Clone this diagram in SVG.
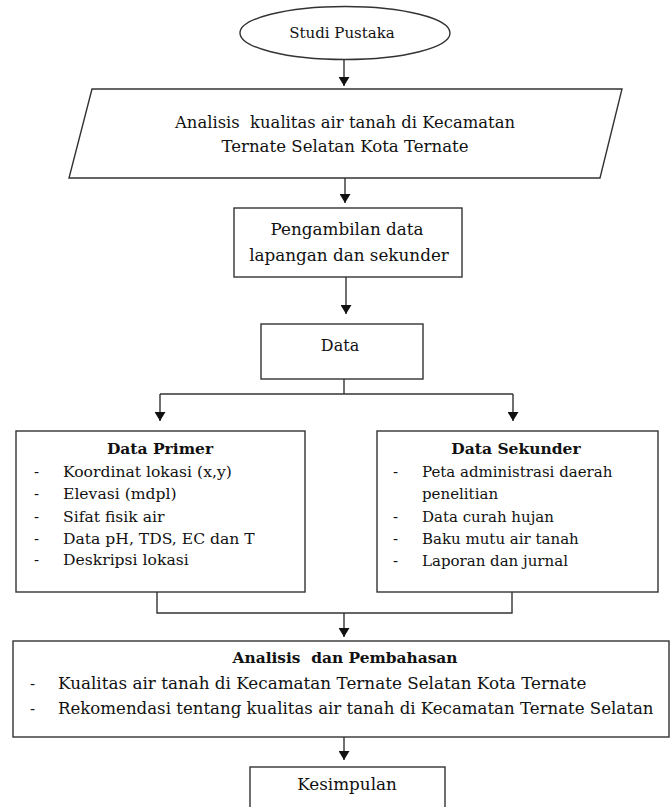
<svg xmlns="http://www.w3.org/2000/svg" width="670" height="807" viewBox="0 0 670 807">
<style>
.s{fill:#fff;stroke:#333;stroke-width:1.4}
.t{font-family:"DejaVu Serif","Liberation Serif",serif;font-size:15px;fill:#111}
.c{text-anchor:middle}
.b{font-weight:bold}
.p{white-space:pre}
.ln{fill:none;stroke:#333;stroke-width:1.4}
</style>
<defs>
<marker id="ah" viewBox="0 0 9 11" refX="9" refY="5.5" markerWidth="9" markerHeight="11" markerUnits="userSpaceOnUse" orient="auto">
<path d="M0,0 L9,5.5 L0,11 z" fill="#111"/>
</marker>
</defs>
<rect width="670" height="807" fill="#fff"/>
<g id="connectors">
<path class="ln" d="M344,60 V86" marker-end="url(#ah)"/>
<path class="ln" d="M345,178 V203" marker-end="url(#ah)"/>
<path class="ln" d="M346,277 V314" marker-end="url(#ah)"/>
<path class="ln" d="M344,379 V394"/>
<path class="ln" d="M160,394 H513"/>
<path class="ln" d="M160,394 V421" marker-end="url(#ah)"/>
<path class="ln" d="M513,394 V421" marker-end="url(#ah)"/>
<path class="ln" d="M157,592 V613 H512 V592"/>
<path class="ln" d="M344,613 V637" marker-end="url(#ah)"/>
<path class="ln" d="M344,737 V760" marker-end="url(#ah)"/>
</g>
<g id="studi">
<ellipse class="s" cx="345" cy="33" rx="105" ry="26.5"/>
<text class="t c" x="342" y="38" style="font-size:15px">Studi Pustaka</text>
</g>
<g id="analisis">
<polygon class="s" points="92,89 622,89 600,178 69,178"/>
<text class="t c p" x="345" y="128" style="font-size:16.4px">Analisis  kualitas air tanah di Kecamatan</text>
<text class="t c" x="345" y="152" style="font-size:16.6px">Ternate Selatan Kota Ternate</text>
</g>
<g id="pengambilan">
<rect class="s" x="234" y="208" width="228" height="69"/>
<text class="t c" x="347" y="235" style="font-size:16.8px">Pengambilan data</text>
<text class="t c" x="349" y="261" style="font-size:16.8px">lapangan dan sekunder</text>
</g>
<g id="data">
<rect class="s" x="261" y="324" width="162" height="55"/>
<text class="t c" x="340" y="351" style="font-size:16px">Data</text>
</g>
<g id="primer">
<rect class="s" x="16" y="431" width="289" height="161"/>
<text class="t c b" x="160" y="454" style="font-size:15.5px">Data Primer</text>
<text class="t" x="34" y="477">-</text><text class="t" x="63" y="477" style="font-size:15.6px">Koordinat lokasi (x,y)</text>
<text class="t" x="34" y="499">-</text><text class="t" x="63" y="499" style="font-size:15.6px">Elevasi (mdpl)</text>
<text class="t" x="34" y="522">-</text><text class="t" x="63" y="522" style="font-size:15.6px">Sifat fisik air</text>
<text class="t" x="34" y="544">-</text><text class="t" x="63" y="544" style="font-size:15.6px">Data pH, TDS, EC dan T</text>
<text class="t" x="34" y="565">-</text><text class="t" x="63" y="565" style="font-size:15.6px">Deskripsi lokasi</text>
</g>
<g id="sekunder">
<rect class="s" x="377" y="431" width="281" height="161"/>
<text class="t c b" x="516" y="454" style="font-size:15.5px">Data Sekunder</text>
<text class="t" x="393" y="477">-</text><text class="t" x="422" y="477" style="font-size:15px">Peta administrasi daerah</text>
<text class="t" x="422" y="499" style="font-size:15px">penelitian</text>
<text class="t" x="393" y="522">-</text><text class="t" x="422" y="522" style="font-size:15px">Data curah hujan</text>
<text class="t" x="393" y="544">-</text><text class="t" x="422" y="544" style="font-size:15px">Baku mutu air tanah</text>
<text class="t" x="393" y="566">-</text><text class="t" x="422" y="566" style="font-size:15px">Laporan dan jurnal</text>
</g>
<g id="pembahasan">
<rect class="s" x="13" y="641" width="656" height="96"/>
<text class="t c b p" x="345" y="663" style="font-size:15.4px">Analisis  dan Pembahasan</text>
<text class="t" x="30" y="689">-</text><text class="t" x="58" y="689" style="font-size:16.8px">Kualitas air tanah di Kecamatan Ternate Selatan Kota Ternate</text>
<text class="t" x="30" y="714">-</text><text class="t" x="58" y="714" style="font-size:16.6px">Rekomendasi tentang kualitas air tanah di Kecamatan Ternate Selatan</text>
</g>
<g id="kesimpulan">
<rect class="s" x="250" y="767" width="195" height="60"/>
<text class="t c" x="347" y="790" style="font-size:16.8px">Kesimpulan</text>
</g>
</svg>
